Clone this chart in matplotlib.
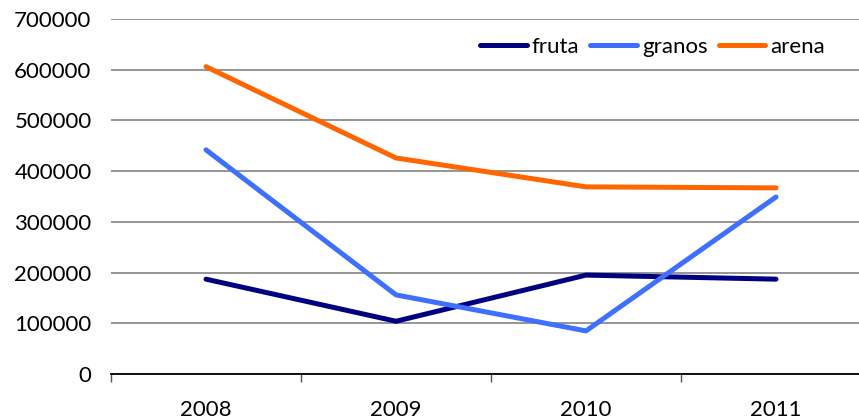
import matplotlib.pyplot as plt
from matplotlib.ticker import FixedLocator, NullFormatter

years = ['2008', '2009', '2010', '2011']
fruta = [187000, 104000, 195000, 187000]
granos = [442000, 156000, 85000, 349000]
arena = [606000, 426000, 369000, 367000]

plt.rcParams['font.family'] = ['Lato', 'DejaVu Sans']

fig = plt.figure(figsize=(8.59, 4.19), dpi=100)
ax = fig.add_axes([111 / 859, 1 - 374 / 419, 760 / 859, (374 - 19) / 419])

x = range(len(years))
ax.plot(x, fruta, color='#000080', lw=3.6, label='fruta', solid_capstyle='round')
ax.plot(x, granos, color='#3f6fff', lw=3.6, label='granos', solid_capstyle='round')
ax.plot(x, arena, color='#ff6600', lw=3.6, label='arena', solid_capstyle='round')

ax.set_xlim(-0.5, 3.5)
ax.set_ylim(0, 700000)
ax.set_yticks(range(0, 700001, 100000))
ax.set_yticklabels([str(v) for v in range(0, 700001, 100000)])
ax.tick_params(axis='y', length=0, pad=14, labelsize=16, colors='#000000')
ax.yaxis.grid(True, color='#8c8c8c', lw=1.3)
ax.set_axisbelow(True)

ax.set_xticks(list(x))
ax.set_xticklabels(years)
ax.tick_params(axis='x', which='major', length=0, pad=19, labelsize=16)
ax.xaxis.set_minor_locator(FixedLocator([-0.5, 0.5, 1.5, 2.5, 3.5]))
ax.xaxis.set_minor_formatter(NullFormatter())
ax.tick_params(axis='x', which='minor', length=6, width=1, color='#555555', direction='out')

for s in ['left', 'right', 'top']:
    ax.spines[s].set_visible(False)
ax.spines['bottom'].set_color('#000000')
ax.spines['bottom'].set_linewidth(1.3)

ax.legend(loc='upper right', bbox_to_anchor=((825 - 111) / 760, (374 - 37) / 355), ncol=3,
          frameon=False, fontsize=16, handlelength=2.1, handletextpad=0.22,
          columnspacing=0.5, borderaxespad=0, borderpad=0)

fig.savefig('out.png', dpi=100)
